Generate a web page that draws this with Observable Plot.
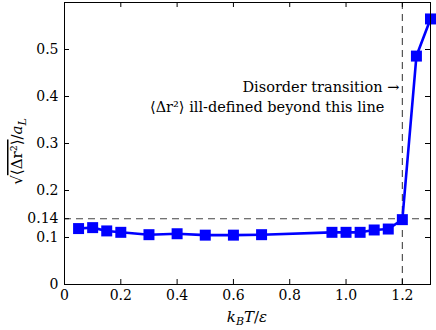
<!DOCTYPE html>
<html><head><meta charset="utf-8">
<script src="https://cdn.jsdelivr.net/npm/d3@7"></script>
<script src="https://cdn.jsdelivr.net/npm/@observablehq/plot@0.6"></script>
<style>
body{margin:0;background:#fff}
#chart svg, #chart svg text, #chart svg g {font-family:"DejaVu Serif", "Liberation Serif", serif !important;}
</style>
</head><body><div id="chart"></div>
<script>
const temps = [0.05,0.1,0.15,0.2,0.3,0.4,0.5,0.6,0.7,0.95,1.0,1.05,1.1,1.15,1.2,1.25,1.3];
const rms   = [0.119,0.121,0.114,0.111,0.106,0.108,0.105,0.105,0.106,0.111,0.111,0.111,0.116,0.118,0.138,0.486,0.565];
const xTicks = [0,0.2,0.4,0.6,0.8,1.0,1.2];
const xTickLabels = ["0","0.2","0.4","0.6","0.8","1.0","1.2"];
const yTicks = [0,0.1,0.14,0.2,0.3,0.4,0.5];
const yTickLabels = ["0","0.1","0.14","0.2","0.3","0.4","0.5"];
const transitionT = 1.2;
const thresholdR = 0.14;
const annotation1 = "Disorder transition \u2192";
const annotation2 = "\u27E8\u0394r\u00B2\u27E9 ill-defined beyond this line";

const data = temps.map((t, i) => ({t, r: rms[i]}));

const W = 436, H = 330, mL = 64, mR = 6, mT = 2, mB = 46;
const fw = W - mL - mR, fh = H - mT - mB, tl = 5;

const plot = Plot.plot({
  width: W, height: H,
  marginLeft: mL, marginRight: mR, marginTop: mT, marginBottom: mB,
  style: "font-size: 15px; background: #fff; color: #000;",
  x: {domain: [0, 1.3], label: null},
  y: {domain: [0, 0.6], label: null},
  marks: [
    Plot.ruleY([thresholdR], {stroke: "#444", strokeWidth: 1.1, strokeDasharray: "7,5"}),
    Plot.ruleX([transitionT], {stroke: "#444", strokeWidth: 1.1, strokeDasharray: "7,5"}),
    Plot.tickX(xTicks, {x: d => d, insetTop: fh - tl, stroke: "#000"}),
    Plot.tickX(xTicks, {x: d => d, insetBottom: fh - tl, stroke: "#000"}),
    Plot.tickY(yTicks, {y: d => d, insetRight: fw - tl, stroke: "#000"}),
    Plot.tickY(yTicks, {y: d => d, insetLeft: fw - tl, stroke: "#000"}),
    Plot.axisX(xTicks, {tickSize: 0, tickPadding: 6, tickFormat: d => xTickLabels[xTicks.indexOf(d)], fontSize: 14, label: null}),
    Plot.axisY(yTicks, {tickSize: 0, tickPadding: 6, tickFormat: d => yTickLabels[yTicks.indexOf(d)], fontSize: 14, label: null}),
    Plot.line(data, {x: "t", y: "r", stroke: "#0000ff", strokeWidth: 2.6}),
    Plot.dot(data, {x: "t", y: "r", symbol: "square", r: 6.2, fill: "#0000ff", stroke: "none"}),
    Plot.text([annotation1], {x: transitionT, y: 0.42, text: d => d, textAnchor: "end", dx: -3, fontSize: 14.5}),
    Plot.text([annotation2], {x: transitionT, y: 0.376, text: d => d, textAnchor: "end", dx: -18, fontSize: 14.5}),
    Plot.frame({stroke: "#000", strokeWidth: 1})
  ]
});

const svg = d3.select(plot);
// y-axis label: sqrt(<Δr²>)/a_L
const yl = svg.append("text")
  .attr("transform", `translate(22,${mT + fh * 0.53}) rotate(-90)`)
  .attr("text-anchor", "middle")
  .attr("font-size", 15);
yl.append("tspan").text("\u221A");
yl.append("tspan").attr("text-decoration", "overline").text("\u27E8\u0394r\u00B2\u27E9");
yl.append("tspan").text("/");
yl.append("tspan").attr("font-style", "italic").text("a");
yl.append("tspan").attr("font-style", "italic").attr("font-size", 11).attr("dy", 4).text("L");

// x-axis label: k_B T / ε
const xl = svg.append("text")
  .attr("x", mL + fw / 2).attr("y", H - 8)
  .attr("text-anchor", "middle")
  .attr("font-size", 15);
xl.append("tspan").attr("font-style", "italic").text("k");
xl.append("tspan").attr("font-style", "italic").attr("font-size", 11).attr("dy", 3).text("B");
xl.append("tspan").attr("font-style", "italic").attr("dy", -3).text("T");
xl.append("tspan").text("/");
xl.append("tspan").attr("font-style", "italic").text("\u03B5");

document.getElementById("chart").appendChild(plot);
</script>
</body></html>
